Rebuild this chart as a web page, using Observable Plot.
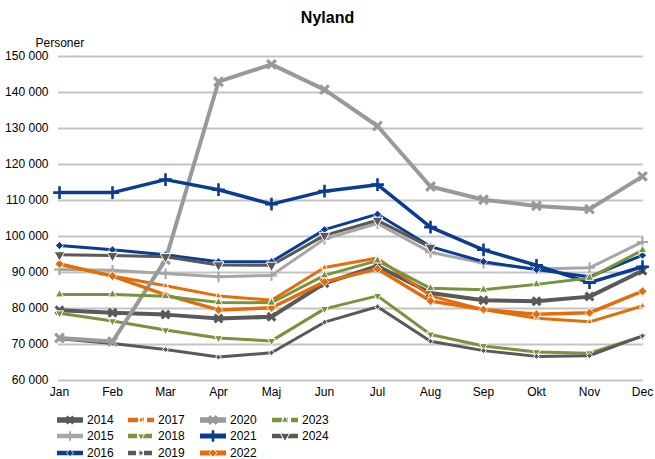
<!DOCTYPE html>
<html>
<head>
<meta charset="utf-8">
<script src="https://cdn.jsdelivr.net/npm/d3@7"></script>
<script src="https://cdn.jsdelivr.net/npm/@observablehq/plot@0.6"></script>
<style>
  html, body { margin: 0; padding: 0; background: #fff; }
  body { width: 655px; height: 459px; overflow: hidden; font-family: "Liberation Sans", Arial, sans-serif; }
  #title { height: 28px; box-sizing: border-box; padding-top: 7px; line-height: 22px; text-align: center; font-weight: bold; font-size: 16px; color: #000; }
  #chart svg, #legend svg { display: block; }
</style>
</head>
<body>
<div id="title">Nyland</div>
<div id="chart"></div>
<div id="legend"></div>
<script>
const months = ["Jan","Feb","Mar","Apr","Maj","Jun","Jul","Aug","Sep","Okt","Nov","Dec"];
const years = ["2014","2015","2016","2017","2018","2019","2020","2021","2022","2023","2024"];
const yTicks = [60000,70000,80000,90000,100000,110000,120000,130000,140000,150000];

const v2014 = [79500, 78800, 78300, 77200, 77700, 87000, 91800, 84300, 82300, 82000, 83300, 90500];
const v2015 = [90800, 90600, 89700, 88800, 89200, 99300, 103600, 95600, 92600, 91000, 91300, 98500];
const v2016 = [97500, 96300, 94900, 93000, 93000, 101900, 106200, 97200, 93000, 90800, 88800, 94800];
const v2017 = [92300, 89000, 86300, 83500, 82300, 91400, 94000, 83500, 79700, 77300, 76300, 80700];
const v2018 = [78700, 76500, 74000, 71800, 71000, 79900, 83500, 72800, 69600, 67900, 67600, 72300];
const v2019 = [71600, 70300, 68600, 66500, 67700, 76200, 80500, 70900, 68300, 66700, 66900, 72400];
const v2020 = [71800, 70800, 93500, 143000, 147800, 140800, 130700, 113900, 110200, 108500, 107600, 116700];
const v2021 = [112200, 112200, 115800, 113000, 109000, 112600, 114400, 102600, 96300, 92000, 87200, 91600];
const v2022 = [92400, 89000, 83800, 79600, 80200, 87400, 91000, 82100, 79700, 78400, 78800, 84800];
const v2023 = [83900, 83900, 83400, 81700, 81600, 89200, 93300, 85600, 85200, 86700, 88500, 96200];
const v2024 = [94900, 94700, 94400, 92100, 92000, 100300, 104500, 97000, null, null, null, null];

const seriesValues = {"2014": v2014, "2015": v2015, "2016": v2016, "2017": v2017, "2018": v2018, "2019": v2019,
  "2020": v2020, "2021": v2021, "2022": v2022, "2023": v2023, "2024": v2024};

const data = [];
for (const y of years) {
  seriesValues[y].forEach((v, i) => { if (v != null) data.push({year: y, month: months[i], value: v}); });
}

const DG = "#595959", LG = "#a6a6a6", MG = "#999999", BL = "#0a3d91", OR = "#e46c0a", GR = "#77933c";

const triDown = {
  draw(context, size) {
    const y = -Math.sqrt(size / (Math.sqrt(3) * 3));
    context.moveTo(0, -y * 2);
    context.lineTo(-Math.sqrt(3) * y, y);
    context.lineTo(Math.sqrt(3) * y, y);
    context.closePath();
  }
};

const style = {
  "2014": {color: DG, width: 4,   sym: "times",    r: 3.6, filled: false, sw: 3.2, dash: null},
  "2015": {color: LG, width: 3,   sym: "plus",     r: 3.6, filled: false, sw: 2,   dash: null},
  "2016": {color: BL, width: 3,   sym: "diamond2", r: 3.6, filled: true,  sw: 0.8, dash: null},
  "2017": {color: OR, width: 3,   sym: "triangle2",r: 3,   filled: true,  sw: 1,   dash: "10,3,3,3"},
  "2018": {color: GR, width: 3,   sym: triDown,    r: 3,   filled: true,  sw: 1,   dash: "9,6"},
  "2019": {color: DG, width: 3,   sym: "diamond2", r: 2.6, filled: true,  sw: 1,   dash: "8,3,2,3"},
  "2020": {color: MG, width: 4,   sym: "times",    r: 4,   filled: false, sw: 3.2, dash: null},
  "2021": {color: BL, width: 3.5, sym: "plus",     r: 4.2, filled: false, sw: 2.6, dash: null},
  "2022": {color: OR, width: 3.5, sym: "diamond2", r: 4,   filled: true,  sw: 0.8, dash: null},
  "2023": {color: GR, width: 3,   sym: "triangle2",r: 4,   filled: true,  sw: 1,   dash: "10,3,3,3"},
  "2024": {color: DG, width: 3,   sym: triDown,    r: 4,   filled: true,  sw: 1,   dash: "10,6"}
};

const fmt = d3.formatLocale({decimal: ",", thousands: " ", grouping: [3]}).format(",");

const marks = [
  Plot.gridY(yTicks, {stroke: "#c4c4c4", strokeOpacity: 1, strokeWidth: 2}),
  Plot.axisY(yTicks, {tickSize: 0, tickPadding: 10, tickFormat: fmt, label: null, fontSize: 12, fill: "#000"}),
  Plot.axisX(months, {tickSize: 0, tickPadding: 7, label: null, fontSize: 12, fill: "#000"}),
  Plot.text(["Personer"], {frameAnchor: "top-left", dx: -23, dy: -18, textAnchor: "start", fontSize: 12, fill: "#000"})
];
for (const y of years) {
  const s = style[y];
  const d = data.filter(r => r.year === y);
  marks.push(Plot.line(d, {x: "month", y: "value", stroke: s.color, strokeWidth: s.width, strokeLinejoin: "round"}));
  if (s.filled) {
    marks.push(Plot.dot(d, {x: "month", y: "value", symbol: s.sym, r: s.r, fill: s.color, stroke: "#fff", strokeWidth: s.sw}));
  } else {
    marks.push(Plot.dot(d, {x: "month", y: "value", symbol: s.sym, r: s.r, fill: "none", stroke: s.color, strokeWidth: s.sw}));
  }
}

const chart = Plot.plot({
  width: 655,
  height: 377,
  marginTop: 28,
  marginBottom: 25,
  marginLeft: 58,
  marginRight: 12,
  style: {fontFamily: "'Liberation Sans', Arial, sans-serif", fontSize: "12px", background: "#fff", color: "#000", overflow: "visible"},
  x: {type: "point", domain: months, padding: 0},
  y: {domain: [60000, 150000]},
  marks
});
document.getElementById("chart").appendChild(chart);

// Legend (column-major, 4 columns x 3 rows)
const colX = [57, 128, 200, 272];
const rowY = [15, 31, 48];
const lsvg = d3.select("#legend").append("svg").attr("width", 655).attr("height", 54)
  .style("font-family", "'Liberation Sans', Arial, sans-serif").style("font-size", "12px");
years.forEach((y, i) => {
  const s = style[y];
  const cx = colX[Math.floor(i / 3)], cy = rowY[i % 3];
  const g = lsvg.append("g").attr("transform", `translate(${cx},${cy})`);
  g.append("line").attr("x1", 0).attr("x2", 26).attr("y1", 0).attr("y2", 0)
    .attr("stroke", s.color).attr("stroke-width", s.width + 1.5)
    .attr("stroke-dasharray", s.dash || null);
  const symType = typeof s.sym === "string" ? ({
      times: d3.symbolTimes, plus: d3.symbolPlus, diamond2: d3.symbolDiamond2, triangle2: d3.symbolTriangle2
    })[s.sym] : s.sym;
  const path = d3.symbol(symType, Math.PI * s.r * s.r * 0.8)();
  const p = g.append("path").attr("d", path).attr("transform", "translate(13,0)");
  if (s.filled) p.attr("fill", s.color).attr("stroke", "#fff").attr("stroke-width", s.sw);
  else p.attr("fill", "none").attr("stroke", s.color).attr("stroke-width", s.sw);
  g.append("text").attr("x", 30).attr("y", 0).attr("dy", "0.35em").attr("fill", "#000").text(y);
});
</script>
</body>
</html>
